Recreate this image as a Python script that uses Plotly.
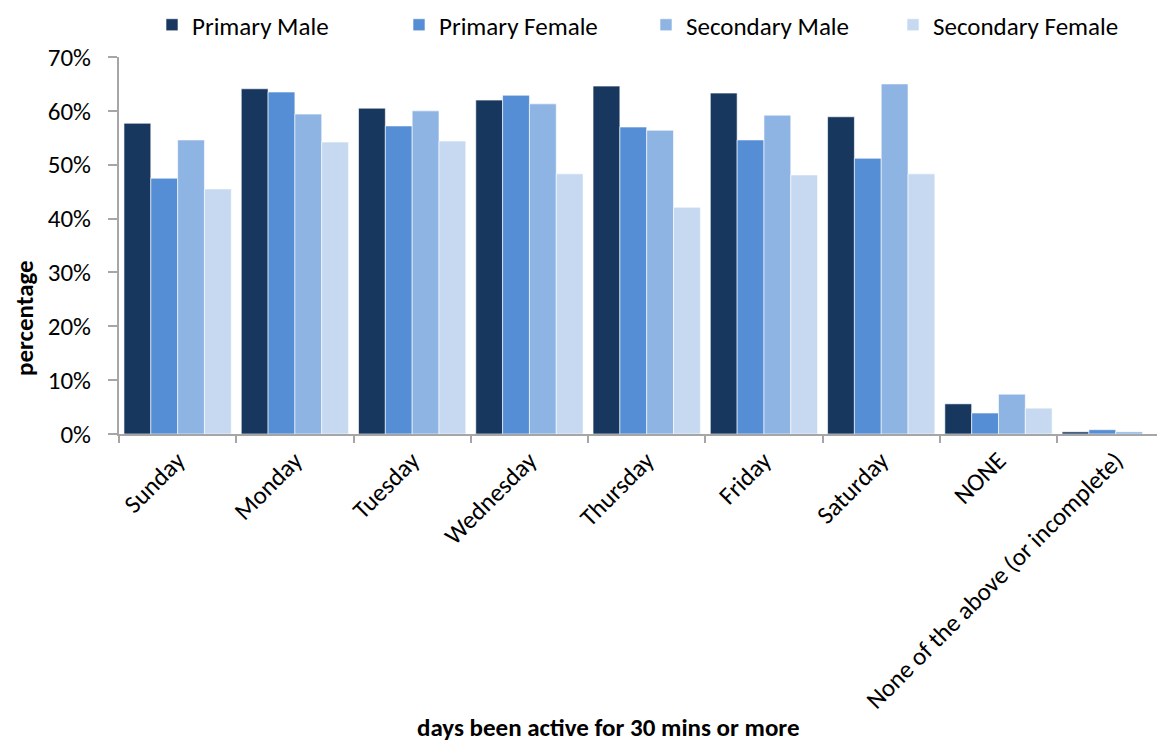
import plotly.graph_objects as go

categories = ["Sunday", "Monday", "Tuesday", "Wednesday", "Thursday", "Friday",
              "Saturday", "NONE", "None of the above (or incomplete)"]
primary_male = [57.7, 64.1, 60.5, 62.0, 64.6, 63.3, 58.9, 5.6, 0.4]
primary_female = [47.5, 63.5, 57.2, 62.9, 57.0, 54.6, 51.2, 3.9, 0.8]
secondary_male = [54.6, 59.4, 60.0, 61.3, 56.4, 59.2, 65.0, 7.4, 0.4]
secondary_female = [45.5, 54.2, 54.4, 48.3, 42.1, 48.1, 48.3, 4.8, 0.0]

series = [
    ("Primary Male", primary_male, "#17375E"),
    ("Primary Female", primary_female, "#558ED5"),
    ("Secondary Male", secondary_male, "#8EB4E3"),
    ("Secondary Female", secondary_female, "#C6D9F1"),
]

FONT = "Calibri, Carlito, Lato, sans-serif"
FS = 25

# page body has an 8px margin: work in figure coordinates = page - OFF
OFF = 8
W, H = 1165 - OFF, 743 - OFF
PL, PR, PT, PB = 119 - OFF, 1165 - OFF, 57 - OFF, 434 - OFF

fig = go.Figure()
for name, vals, col in series:
    fig.add_trace(go.Bar(
        x=categories, y=vals, name=name,
        marker=dict(color=col, line=dict(color="rgba(255,255,255,0.6)", width=1)),
    ))

fig.update_layout(
    width=W, height=H,
    paper_bgcolor="white", plot_bgcolor="white",
    barmode="group", bargap=0.085, bargroupgap=0,
    margin=dict(l=PL, r=W - PR, t=PT, b=H - PB, autoexpand=False),
    font=dict(family=FONT, size=FS, color="#000000"),
    legend=dict(orientation="h", xref="container", yref="container",
                x=(152 - OFF) / W, xanchor="left", y=1 - (25 - OFF) / H, yanchor="middle",
                font=dict(size=FS), itemwidth=30, entrywidth=202,
                traceorder="normal"),
    showlegend=True,
)

fig.update_xaxes(
    range=[-0.5, 8.42], showline=True, linecolor="#A6A6A6", linewidth=2,
    ticks="outside", tickson="boundaries", ticklen=7, tickcolor="#A6A6A6", tickwidth=2,
    tickangle=-45, tickfont=dict(size=FS), showgrid=False, automargin=False,
)
fig.update_yaxes(
    range=[0, 70], dtick=10, ticksuffix="%", showline=True, linecolor="#A6A6A6",
    linewidth=2, ticks="outside", ticklen=9, tickcolor="#A6A6A6", tickwidth=2,
    showgrid=False, zeroline=False, tickfont=dict(size=FS), automargin=False,
    ticklabelstandoff=12,
)

fig.add_annotation(text="<b>days been active for 30 mins or more</b>", xref="paper", yref="paper",
                   x=(608 - 119) / (PR - PL), y=-(727 - 434) / (PB - PT), showarrow=False,
                   font=dict(size=FS), xanchor="center", yanchor="middle")
fig.add_annotation(text="<b>percentage</b>", xref="paper", yref="paper",
                   x=-(119 - 24) / (PR - PL), y=(434 - 318) / (PB - PT), showarrow=False, textangle=-90,
                   font=dict(size=FS), xanchor="center", yanchor="middle")

fig.write_html("out.html")
